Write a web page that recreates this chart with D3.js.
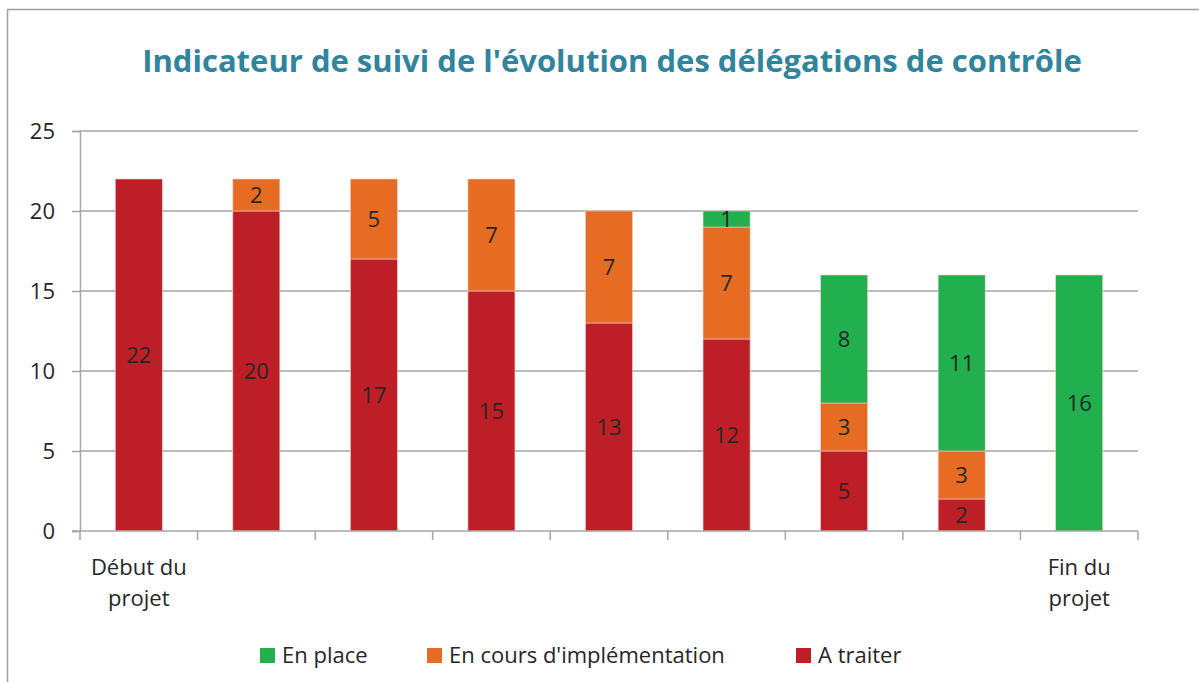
<!DOCTYPE html>
<html>
<head>
<meta charset="utf-8">
<script src="https://cdn.jsdelivr.net/npm/d3@7"></script>
<style>
  body { margin: 0; background: #fff; }
  svg { display: block; font-family: "Open Sans", "Noto Sans", sans-serif; }
</style>
</head>
<body>
<div id="painting"></div>
<script>
// chart data
var categories = ["c1", "c2", "c3", "c4", "c5", "c6", "c7", "c8", "c9"];
var categoryLabels = [["Début du", "projet"], [], [], [], [], [], [], [], ["Fin du", "projet"]];
var aTraiter = [22, 20, 17, 15, 13, 12, 5, 2, 0];
var enCours = [0, 2, 5, 7, 7, 7, 3, 3, 0];
var enPlace = [0, 0, 0, 0, 0, 1, 8, 11, 16];
var seriesNames = ["A traiter", "En cours d'implémentation", "En place"];
var yTicks = [0, 5, 10, 15, 20, 25];
var legendOrder = ["En place", "En cours d'implémentation", "A traiter"];

var colours = {
  "A traiter": "#BE1E26",
  "En cours d'implémentation": "#E66C24",
  "En place": "#22B04E"
};

var W = 1199, H = 682;
var margin = {top: 131, left: 80, right: 61, bottom: 151};
var w = W - margin.left - margin.right;
var h = H - margin.top - margin.bottom;
var fs = 22;

var svg = d3.select("#painting").append("svg")
  .attr("width", W)
  .attr("height", H);

// outer frame
svg.append("rect")
  .attr("x", 7.5).attr("y", 9.5)
  .attr("width", W + 20).attr("height", H + 20)
  .attr("fill", "none")
  .attr("stroke", "#a0a0a0")
  .attr("stroke-width", 1.5);

svg.append("text")
  .attr("x", 612).attr("y", 72)
  .attr("text-anchor", "middle")
  .attr("font-size", 31)
  .attr("font-weight", "bold")
  .attr("fill", "#31849B")
  .text("Indicateur de suivi de l'évolution des délégations de contrôle");

var g = svg.append("g")
  .attr("transform", "translate(" + margin.left + "," + margin.top + ")");

var rows = categories.map(function(c, i) {
  return {cat: c, "A traiter": aTraiter[i], "En cours d'implémentation": enCours[i], "En place": enPlace[i]};
});

var xScale = d3.scaleBand().domain(categories).range([0, w]).paddingInner(0.6).paddingOuter(0.3);
var xOuter = d3.scaleBand().domain(categories).range([0, w]);
var yScale = d3.scaleLinear().domain([0, 25]).range([h, 0]);

// gridlines
g.append("g").selectAll("line")
  .data(yTicks.filter(function(d) { return d > 0; }))
  .enter().append("line")
  .attr("x1", 0).attr("x2", w)
  .attr("y1", function(d) { return yScale(d); })
  .attr("y2", function(d) { return yScale(d); })
  .attr("stroke", "#a6a6a6")
  .attr("stroke-width", 1.5);

// y axis
var yAxis = d3.axisLeft(yScale).tickValues(yTicks).tickSize(8).tickPadding(17);
var yg = g.append("g").call(yAxis);
yg.select(".domain").attr("stroke", "#a6a6a6").attr("stroke-width", 1.5);
yg.selectAll(".tick line").attr("stroke", "#a6a6a6").attr("stroke-width", 1.5);
yg.selectAll("text").attr("font-size", fs).attr("fill", "#262626")
  .attr("font-family", "Open Sans, sans-serif");

// stacked bars
var stack = d3.stack().keys(seriesNames);
var stacked = stack(rows);

var layers = g.selectAll(".layer")
  .data(stacked)
  .enter().append("g")
  .attr("class", "layer")
  .attr("fill", function(d) { return colours[d.key]; });

layers.selectAll("rect")
  .data(function(d) { return d.filter(function(p) { return p[1] - p[0] > 0; }); })
  .enter().append("rect")
  .attr("x", function(d) { return xScale(d.data.cat); })
  .attr("width", xScale.bandwidth())
  .attr("y", function(d) { return yScale(d[1]); })
  .attr("height", function(d) { return yScale(d[0]) - yScale(d[1]); })
  .attr("stroke", "#f2d0d0")
  .attr("stroke-width", 0.6);

// value labels
layers.selectAll("text")
  .data(function(d) {
    return d.filter(function(p) { return p[1] - p[0] > 0; })
      .map(function(p) { return {p: p, key: d.key}; });
  })
  .enter().append("text")
  .attr("x", function(d) { return xScale(d.p.data.cat) + xScale.bandwidth() / 2; })
  .attr("y", function(d) { return yScale((d.p[0] + d.p[1]) / 2) + 8; })
  .attr("text-anchor", "middle")
  .attr("font-size", fs)
  .attr("fill", "#262626")
  .text(function(d) { return d.p[1] - d.p[0]; });

// x axis
var xg = g.append("g").attr("transform", "translate(0," + h + ")");
xg.append("line")
  .attr("x1", -8).attr("x2", w)
  .attr("stroke", "#a6a6a6").attr("stroke-width", 1.5);
xg.selectAll(".xtick")
  .data(d3.range(categories.length + 1))
  .enter().append("line")
  .attr("class", "xtick")
  .attr("x1", function(i) { return i * xOuter.step(); })
  .attr("x2", function(i) { return i * xOuter.step(); })
  .attr("y1", 0).attr("y2", 9)
  .attr("stroke", "#a6a6a6").attr("stroke-width", 1.5);

var xl = xg.selectAll(".xlabel")
  .data(categories)
  .enter().append("text")
  .attr("class", "xlabel")
  .attr("text-anchor", "middle")
  .attr("font-size", fs)
  .attr("fill", "#262626");
xl.each(function(c, i) {
  var t = d3.select(this);
  categoryLabels[i].forEach(function(line, k) {
    t.append("tspan")
      .attr("x", xOuter(c) + xOuter.bandwidth() / 2)
      .attr("y", 44 + k * 31)
      .text(line);
  });
});

// legend
var legendX = [260, 427, 796];
var legend = svg.append("g").selectAll("g")
  .data(legendOrder)
  .enter().append("g")
  .attr("transform", function(d, i) { return "translate(" + legendX[i] + ",648)"; });
legend.append("rect")
  .attr("width", 15).attr("height", 15)
  .attr("fill", function(d) { return colours[d]; });
legend.append("text")
  .attr("x", 22).attr("y", 15)
  .attr("font-size", fs)
  .attr("fill", "#262626")
  .text(function(d) { return d; });
</script>
</body>
</html>
